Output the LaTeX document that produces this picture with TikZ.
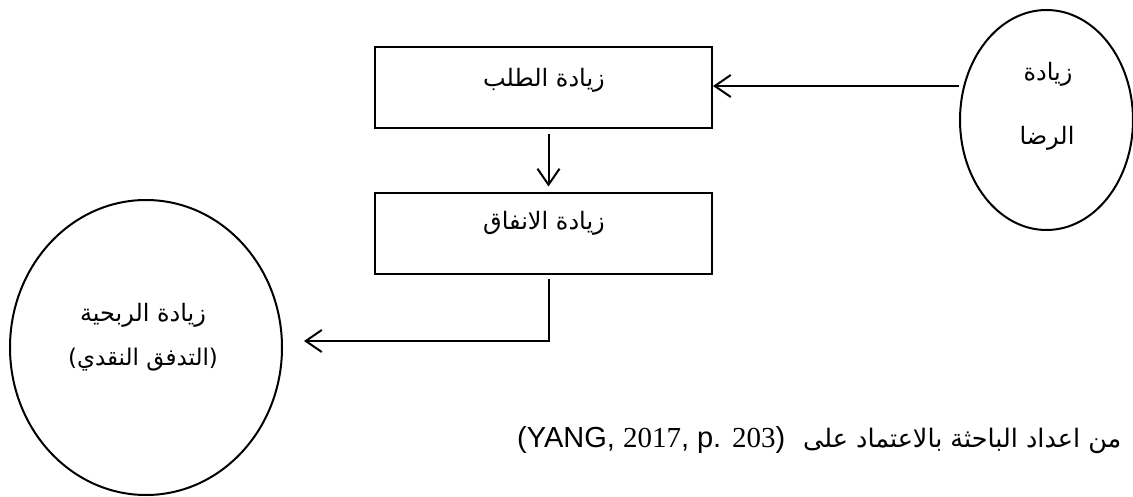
\documentclass[tikz,border=0pt]{standalone}
\usepackage{fontspec}
\usetikzlibrary{shapes.geometric,arrows.meta}
\TeXXeTstate=1
\newfontfamily\arabicfont[Script=Arabic]{DejaVu Sans}
\newfontfamily\latinfont{Liberation Sans}
\newfontfamily\latinserif{Liberation Serif}
\tikzset{
  boxnode/.style={draw, line width=2pt, minimum width=337pt, minimum height=81pt, inner sep=0pt},
  circnode/.style={draw, ellipse, line width=2pt, inner sep=0pt},
  lbl/.style={font=\arabicfont\fontsize{24}{28}\selectfont, inner sep=0pt, anchor=center},
  arr/.style={line width=2pt, -{Straight Barb[length=16pt,width=22pt,line width=2pt]}}
}
\begin{document}
\begin{tikzpicture}[x=1pt,y=-1pt]
\useasboundingbox (0,0) rectangle (1133,497);
% boxes
\node[boxnode] (d) at (543.5,87.5) {};
\node[lbl] (dt) at (544,80) {\beginR زيادة الطلب\endR};
\node[boxnode] (e) at (543.5,234) {};
\node[lbl] (et) at (544,223) {\beginR زيادة الانفاق\endR};
% ellipses
\node[circnode, minimum width=173pt, minimum height=220pt] (r) at (1046.5,120) {};
\node[lbl] (rt1) at (1048,74) {\beginR زيادة\endR};
\node[lbl] (rt2) at (1047,138) {\beginR الرضا\endR};
\node[circnode, minimum width=272pt, minimum height=295pt] (l) at (146,347.5) {};
\node[lbl] (lt1) at (143,315) {\beginR زيادة الربحية\endR};
\node[lbl, font=\arabicfont\fontsize{23}{28}\selectfont] (lt2) at (143,360) {\beginR (التدفق النقدي)\endR};
% connectors
\draw[arr] ([yshift=1.5pt]d.east -| r.west) -- ([yshift=1.5pt]d.east);
\draw[arr] ([xshift=5pt,yshift=-5pt]d.south) -- ([xshift=5pt,yshift=6pt]e.north);
\draw[arr] ([xshift=5pt,yshift=-4pt]e.south) |- ([xshift=21pt,yshift=6.5pt]l.east);
% caption
\node[inner sep=0pt, anchor=west] (cap) at (517,440)
  {{\latinfont\fontsize{29}{34}\selectfont (YANG, {\latinserif 2017}, p. {\latinserif 203})}\hspace{18pt}%
   {\arabicfont\fontsize{25.5}{30}\selectfont\beginR من اعداد الباحثة بالاعتماد على\endR}};
\end{tikzpicture}
\end{document}
